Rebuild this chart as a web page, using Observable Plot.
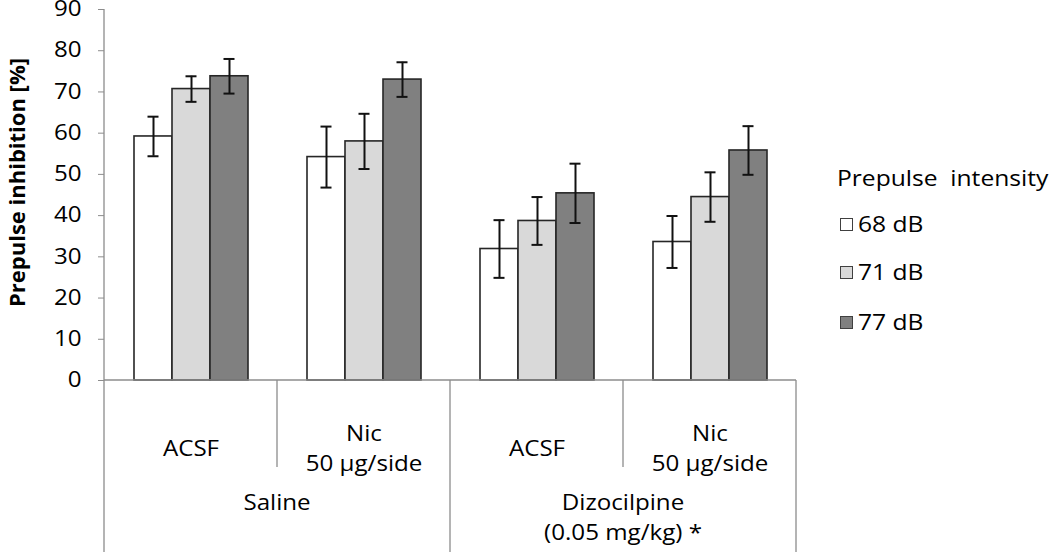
<!DOCTYPE html>
<html><head><meta charset="utf-8">
<script src="https://cdn.jsdelivr.net/npm/d3@7"></script>
<script src="https://cdn.jsdelivr.net/npm/@observablehq/plot@0.6"></script>
<style>
body{margin:0;background:#fff;font-family:"Open Sans",Lato,sans-serif;}
#wrap{position:relative;width:1050px;height:552px;overflow:hidden;}
#legend{position:absolute;left:0;top:0;width:1050px;height:552px;pointer-events:none;color:#000;}
.lg{position:absolute;font-size:21.4px;line-height:26px;white-space:pre;transform:scaleX(1.15);transform-origin:0 50%;}
.sw{position:absolute;width:11px;height:11px;border:1px solid #404040;}
</style></head><body><div id="wrap"><div id="chart"></div><div id="legend"></div></div>
<script>
const groupKeys = ["Saline · ACSF","Saline · Nic","Dizocilpine · ACSF","Dizocilpine · Nic"];
const treatments = ["ACSF","Nic\n50 µg/side","ACSF","Nic\n50 µg/side"];
const pretreatments = ["Saline","Dizocilpine\n(0.05 mg/kg) *"];
const intensities = ["68 dB","71 dB","77 dB"];
const mean68 = [59.2, 54.2, 31.9, 33.6];
const mean71 = [70.7, 58.0, 38.7, 44.5];
const mean77 = [73.8, 73.0, 45.4, 55.8];
const err68 = [4.8, 7.4, 7.0, 6.3];
const err71 = [3.1, 6.7, 5.8, 6.0];
const err77 = [4.2, 4.2, 7.2, 5.9];
const yTicks = [0,10,20,30,40,50,60,70,80,90];
const colors = ["#ffffff","#d9d9d9","#808080"];
const yLabel = "Prepulse inhibition [%]";
const legendTitle = "Prepulse  intensity";

const means = [mean68, mean71, mean77], errs = [err68, err71, err77];
const data = [];
groupKeys.forEach((g,i)=>intensities.forEach((s,j)=>data.push({group:g,intensity:s,value:means[j][i],err:errs[j][i]})));
const catLabels = treatments.map((t,i)=>({group:groupKeys[i],label:t}));

const axisColor = "#8c8c8c";
const STRETCH = 1.15;
const FS = 21;
const plot = Plot.plot({
  width:1050, height:552,
  marginLeft:103, marginRight:253, marginTop:9, marginBottom:172,
  style:{fontFamily:'"Open Sans",Lato,sans-serif', fontSize:FS+"px", background:"transparent", overflow:"visible", color:"#000"},
  fx:{domain:groupKeys, padding:0, axis:null},
  x:{domain:intensities, paddingInner:0, paddingOuter:0.725, axis:null},
  y:{domain:[0,90], axis:null},
  color:{domain:intensities, range:colors},
  marks:[
    Plot.axisY({ticks:yTicks, tickSize:6, tickPadding:17, stroke:axisColor, fill:"#000", label:null, fontSize:FS}),
    Plot.barY(data,{fx:"group", x:"intensity", y:"value", fill:"intensity", stroke:"#262626", strokeWidth:1.6}),
    Plot.ruleX(data,{fx:"group", x:"intensity", y1:d=>d.value-d.err, y2:d=>d.value+d.err, stroke:"#111", strokeWidth:2}),
    Plot.tickY(data,{fx:"group", x:"intensity", y:d=>d.value-d.err, stroke:"#111", strokeWidth:2, insetLeft:13.5, insetRight:13.5}),
    Plot.tickY(data,{fx:"group", x:"intensity", y:d=>d.value+d.err, stroke:"#111", strokeWidth:2, insetLeft:13.5, insetRight:13.5}),
    Plot.text(catLabels,{fx:"group", text:"label", frameAnchor:"bottom", dy:66, lineAnchor:"middle", lineHeight:1.43, fontSize:FS, fill:"#000"})
  ]
});
document.getElementById("chart").appendChild(plot);

// extra axis lines & outer category labels from the plot's scales
const svg = d3.select(plot.tagName.toLowerCase()==="svg" ? plot : plot.querySelector("svg"));
const fx = plot.scale("fx"), y = plot.scale("y");
const y0 = y.apply(0), yTop = y.apply(90);
const bounds = groupKeys.map(k=>fx.apply(k));
bounds.push(fx.apply(groupKeys[groupKeys.length-1]) + fx.bandwidth);
const g = svg.append("g").attr("stroke", axisColor).attr("stroke-width", 1.3);
g.append("line").attr("x1", bounds[0]).attr("x2", bounds[0]).attr("y1", yTop).attr("y2", y0);
g.append("line").attr("x1", bounds[0]).attr("x2", bounds[4]).attr("y1", y0).attr("y2", y0);
bounds.forEach((b,i)=>{
  g.append("line").attr("x1", b).attr("x2", b).attr("y1", y0).attr("y2", i%2===0 ? 552 : y0+87);
});
const t = svg.append("g").attr("font-size", FS).attr("text-anchor","middle").attr("fill","#000");
pretreatments.forEach((p,i)=>{
  const cx = (bounds[2*i] + bounds[2*i+2]) / 2;
  const tx = t.append("text").attr("transform", `translate(${cx},${y0+130})`);
  p.split("\n").forEach((line,k)=>tx.append("tspan").attr("x", 0).attr("dy", k===0 ? 0 : 30).text(line));
});

// horizontal stretch of all horizontal texts (the reference's lettering is wide)
svg.selectAll("text").each(function(){
  const tr = this.getAttribute("transform");
  if (tr) this.setAttribute("transform", tr + ` scale(${STRETCH},1)`);
  else {
    const x = +this.getAttribute("x") || 0, yy = +this.getAttribute("y") || 0;
    this.removeAttribute("x"); this.removeAttribute("y");
    this.setAttribute("transform", `translate(${x},${yy}) scale(${STRETCH},1)`);
  }
});

svg.append("text").attr("transform", `translate(25,${(yTop+y0)/2 - 12}) rotate(-90)`)
  .attr("text-anchor","middle").attr("font-size",22).attr("font-weight","bold").attr("fill","#000").text(yLabel);

// legend
const lg = document.getElementById("legend");
const title = document.createElement("div");
title.className="lg"; title.style.left="837px"; title.style.top="165px"; title.textContent=legendTitle;
lg.appendChild(title);
intensities.forEach((s,j)=>{
  const cy = [224,272,322][j];
  const sw = document.createElement("div");
  sw.className="sw"; sw.style.left="840px"; sw.style.top=(cy-6)+"px"; sw.style.background=colors[j];
  lg.appendChild(sw);
  const tx = document.createElement("div");
  tx.className="lg"; tx.style.left="858px"; tx.style.top=(cy-13)+"px"; tx.textContent=s;
  lg.appendChild(tx);
});
</script></body></html>
